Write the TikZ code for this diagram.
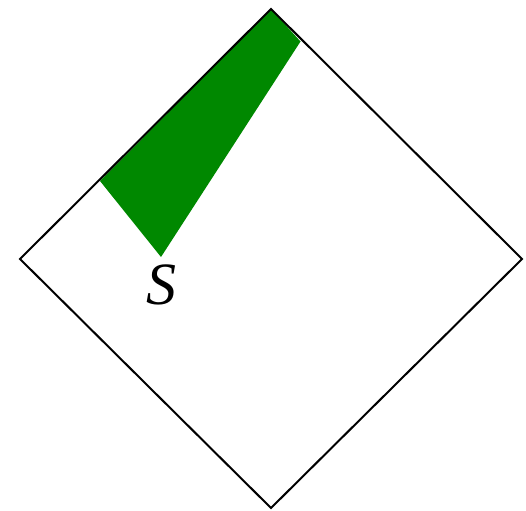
\documentclass[tikz,border=0pt]{standalone}
\usepackage{fontspec}
\setmainfont{Liberation Serif}
\definecolor{fillgreen}{RGB}{0,136,0}
\begin{document}
\begin{tikzpicture}[x=1pt,y=-1pt,
  edge/.style={draw=black,line width=2pt,line join=miter},
  region/.style={fill=fillgreen,draw=none},
  lbl/.style={font=\fontsize{60}{60}\selectfont\itshape,inner sep=0pt}]
\useasboundingbox (0,0) rectangle (526,510);
\coordinate (T) at (271,9);
\coordinate (L) at (20,259);
\coordinate (R) at (522,259);
\coordinate (B) at (271,508);
\coordinate (P1) at (100,181);
\coordinate (P2) at (300.5,41.5);
\coordinate (Sp) at (161,257);
\fill[region] (P1) -- (T) -- (P2) -- (Sp) -- cycle;
\draw[edge] (T) -- (R) -- (B) -- (L) -- cycle;
\node[lbl] (S) at (161,285) {S};
\end{tikzpicture}
\end{document}
